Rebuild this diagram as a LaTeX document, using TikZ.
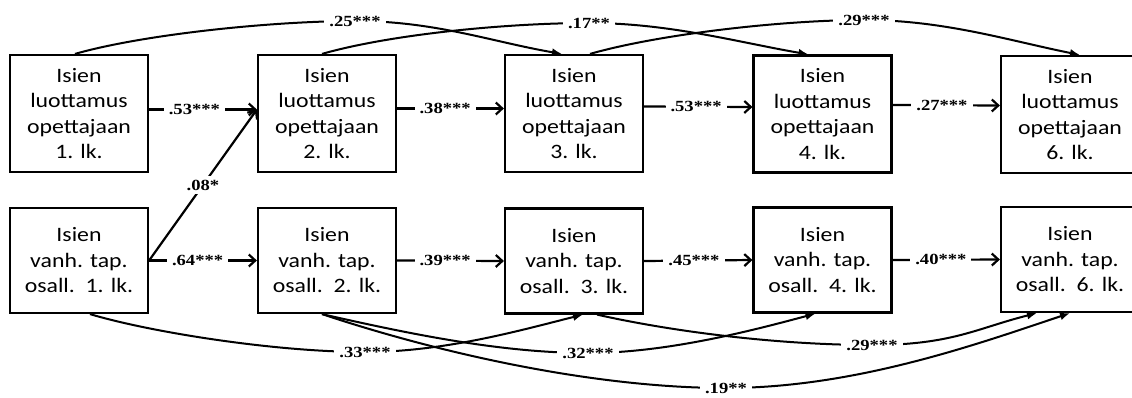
\documentclass[tikz,border=0pt]{standalone}
\usepackage{fontspec}
\setmainfont{Carlito}[FakeStretch=1.16]
\newfontfamily\lblfont{Liberation Serif}[FakeStretch=1.2]
\usetikzlibrary{arrows.meta}

\begin{document}
\begin{tikzpicture}[x=1pt,y=-1pt,
  box/.style={draw, line width=2.2pt, minimum width=138pt, align=center,
    inner sep=0pt, font=\fontsize{20.5}{25.5}\selectfont},
  topbox/.style={box, minimum height=117pt},
  lowbox/.style={box, minimum height=105pt},
  lbl/.style={fill=white, inner xsep=5pt, inner ysep=4pt,
    font=\lblfont\bfseries\fontsize{15.5}{18}\selectfont},
  link/.style={line width=2.2pt,
    -{Straight Barb[length=6.5pt,width=12pt,line width=2.2pt]}},
  arcpath/.style={line width=2pt, -{Latex[length=10pt,width=8pt]}},
]
\useasboundingbox (0,0) rectangle (1132,397);

% upper row: trust in the teacher
\node[topbox] (t1) at (79,113.5)   {Isien\\luottamus\\opettajaan\\1. lk.};
\node[topbox] (t2) at (327,113.5)  {Isien\\luottamus\\opettajaan\\2. lk.};
\node[topbox] (t3) at (574,113.5)  {Isien\\luottamus\\opettajaan\\3. lk.};
\node[topbox] (t4) at (822.5,114)  {Isien\\luottamus\\opettajaan\\4. lk.};
\node[topbox] (t5) at (1070,114.5) {Isien\\luottamus\\opettajaan\\6. lk.};

% lower row: participation in parent meetings
\node[lowbox] (b1) at (79,260.5)   {Isien\\vanh. tap.\\osall.~~1. lk.};
\node[lowbox] (b2) at (327,260.5)  {Isien\\vanh. tap.\\osall.~~2. lk.};
\node[lowbox] (b3) at (574,261)    {Isien\\vanh. tap.\\osall.~~3. lk.};
\node[lowbox] (b4) at (822.5,260)  {Isien\\vanh. tap.\\osall.~~4. lk.};
\node[lowbox] (b5) at (1070,259.5) {Isien\\vanh. tap.\\osall.~~6. lk.};

% stability paths, upper row
\draw[link] ([yshift=4pt]t1.east) -- node[lbl,pos=0.42] (l53a) {.53***} ([yshift=4pt]t2.west);
\draw[link] ([yshift=5pt]t2.east) -- node[lbl,pos=0.45] (l38) {.38***} ([yshift=5pt]t3.west);
\draw[link] ([yshift=7pt]t3.east) -- node[lbl,pos=0.48] (l53b) {.53***} ([yshift=7pt]t4.west);
\draw[link] ([yshift=9pt]t4.east) -- node[lbl,pos=0.46] (l27) {.27***} ([yshift=9pt]t5.west);

% stability paths, lower row
\draw[link] (b1.east) -- node[lbl,pos=0.45] (l64) {.64***} (b2.west);
\draw[link] (b2.east) -- node[lbl,pos=0.45] (l39) {.39***} (b3.west);
\draw[link] (b3.east) -- node[lbl,pos=0.46] (l45) {.45***} (b4.west);
\draw[link] (b4.east) -- node[lbl,pos=0.45] (l40) {.40***} (b5.west);

% cross-lagged path
\draw[link] (b1.east) -- node[lbl,pos=0.5] (l08) {.08*} ([yshift=4pt]t2.west);

% lag-2 paths above
\coordinate (c25) at (355,21);
\coordinate (c17) at (589,23);
\coordinate (c29a) at (864,20);
\draw[arcpath] ([xshift=-4pt]t1.north) .. controls +(70,-20) and +(-80,0) .. (c25)
  .. controls +(80,0) and +(-70,-12) .. ([xshift=-12pt]t3.north);
\draw[arcpath] ([xshift=-5pt]t2.north) .. controls +(70,-20) and +(-80,0) .. (c17)
  .. controls +(80,0) and +(-70,-12) .. ([xshift=-14pt]t4.north);
\draw[arcpath] ([xshift=16pt]t3.north) .. controls +(70,-20) and +(-80,0) .. (c29a)
  .. controls +(80,0) and +(-70,-14) .. ([xshift=10pt]t5.north);
\node[lbl] (l25) at (c25) {.25***};
\node[lbl] (l17) at (c17) {.17**};
\node[lbl] (l29a) at (c29a) {.29***};

% lag-2 and lag-3 paths below
\coordinate (c33) at (365,352);
\coordinate (c32) at (588,353);
\coordinate (c29b) at (872,345);
\coordinate (c19) at (726,388);
\draw[arcpath] ([xshift=11pt]b1.south) .. controls +(60,18) and +(-90,0) .. (c33)
  .. controls +(80,0) and +(-60,15) .. ([xshift=9pt]b3.south);
\draw[arcpath] ([xshift=-5pt]b2.south) .. controls +(80,18) and +(-90,0) .. (c32)
  .. controls +(80,0) and +(-60,16) .. ([xshift=-7pt]b4.south);
\draw[arcpath] ([xshift=23pt]b3.south) .. controls +(80,18) and +(-90,0) .. (c29b)
  .. controls +(80,0) and +(-60,15) .. ([xshift=-33pt]b5.south);
\draw[arcpath] ([xshift=-5pt]b2.south) .. controls +(120,40) and +(-130,0) .. (c19)
  .. controls +(130,0) and +(-90,30) .. (b5.south);
\node[lbl] (l33) at (c33) {.33***};
\node[lbl] (l32) at (c32) {.32***};
\node[lbl] (l29b) at (c29b) {.29***};
\node[lbl] (l19) at (c19) {.19**};
\end{tikzpicture}
\end{document}
